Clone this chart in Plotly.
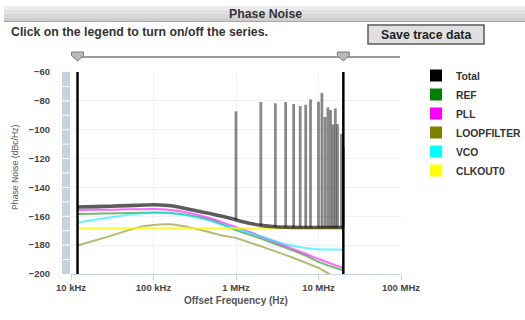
import numpy as np
import plotly.graph_objects as go

# ---------------- data ----------------
freq_hz = [12e3, 20e3, 30e3, 50e3, 70e3, 100e3, 150e3, 200e3, 300e3, 500e3,
           700e3, 1e6, 1.5e6, 2e6, 3e6, 5e6, 7e6, 10e6, 15e6, 20e6]

total_dbc = [-153.6, -153.3, -153.0, -152.6, -152.3, -152.0, -152.5, -153.5, -155.7, -158.3,
             -160.2, -162.5, -165.0, -166.3, -167.3, -167.7, -167.8, -167.8, -167.8, -167.8]
ref_dbc = [-158.4, -158.2, -158.0, -157.8, -157.6, -157.3, -157.6, -158.3, -159.8, -162.8,
           -166.0, -169.6, -173.0, -175.5, -179.2, -184.0, -187.3, -191.6, -195.2, -197.5]
pll_dbc = [-155.6, -155.5, -155.4, -155.2, -155.1, -155.0, -155.4, -156.3, -158.2, -161.5,
           -164.5, -167.5, -171.0, -174.0, -177.8, -182.8, -186.0, -189.6, -193.3, -195.8]
loopfilter_dbc = [-180.2, -176.6, -173.6, -169.6, -167.3, -166.0, -165.6, -166.2, -168.2, -171.4,
                  -173.5, -175.0, -178.4, -180.8, -184.3, -188.9, -192.2, -195.8, -201.5, -205.0]
vco_dbc = [-164.6, -162.3, -160.8, -159.0, -158.0, -157.5, -157.7, -158.4, -160.2, -163.3,
           -166.0, -168.5, -171.8, -174.0, -177.3, -180.6, -182.0, -182.8, -183.1, -183.2]
clkout0_dbc = [-168.3, -168.3, -168.3, -168.3, -168.3, -168.3, -168.3, -168.3, -168.3, -168.3,
               -168.3, -168.3, -168.3, -168.3, -168.3, -168.3, -168.3, -168.3, -168.3, -168.3]

spur_freq_hz = [1e6, 2e6, 3e6, 4e6, 5e6, 6e6, 7e6, 8e6, 10e6, 11e6,
                12e6, 13e6, 14e6, 15e6, 16e6, 17e6, 19e6, 20e6]
spur_dbc = [-87.3, -80.8, -81.7, -80.8, -82.2, -83.6, -82.7, -79.0, -80.6, -74.5,
            -91.2, -84.5, -86.4, -96.3, -85.3, -96.2, -102.9, -112.0]

integration_limits_hz = [12e3, 20e6]

series_names = ["Total", "REF", "PLL", "LOOPFILTER", "VCO", "CLKOUT0"]
legend_colors = ["#000000", "#008000", "#ff00ff", "#808000", "#00ffff", "#ffff00"]
line_colors = ["rgba(0,0,0,0.64)", "rgba(0,128,0,0.55)", "rgba(255,0,255,0.6)",
               "rgba(128,128,0,0.55)", "rgba(0,240,255,0.6)", "rgba(255,250,0,0.8)"]

x_tick_vals = [1e4, 1e5, 1e6, 1e7, 1e8]
x_tick_text = ["10 kHz", "100 kHz", "1 MHz", "10 MHz", "100 MHz"]
x_range_log = [4, 8]
y_range = [-200, -60]

# ---------------- geometry helpers (layout only) ----------------
L, R, T, B = 71, 124, 72, 46
W, H = 525, 320
PW, PH = W - L - R, H - T - B


def px(xp):
    return (xp - L) / PW


def py(yp):
    return (H - B - yp) / PH


def freq_to_paper(f):
    return (np.log10(f) - x_range_log[0]) / (x_range_log[1] - x_range_log[0])


FONT = "Liberation Sans, Arial, Helvetica, sans-serif"

fig = go.Figure()

series_vals = [total_dbc, ref_dbc, pll_dbc, loopfilter_dbc, vco_dbc, clkout0_dbc]

# colored component curves (drawn beneath total)
for name, vals, col in list(zip(series_names, series_vals, line_colors))[1:]:
    fig.add_trace(go.Scatter(x=freq_hz, y=vals, mode="lines",
                             line=dict(color=col, width=2, shape="spline", smoothing=0.6),
                             legendgroup=name, showlegend=False, hoverinfo="skip"))

# total spurs
logf = np.log10(freq_hz)
sx, sy = [], []
for f, lvl in zip(spur_freq_hz, spur_dbc):
    base = float(np.interp(np.log10(f), logf, total_dbc))
    sx += [f, f, None]
    sy += [base, lvl, None]
fig.add_trace(go.Scatter(x=sx, y=sy, mode="lines", line=dict(color="rgba(40,40,40,0.55)", width=2.8),
                         legendgroup="Total", showlegend=False, hoverinfo="skip"))
# total curve
fig.add_trace(go.Scatter(x=freq_hz, y=total_dbc, mode="lines",
                         line=dict(color=line_colors[0], width=3.6, shape="spline", smoothing=0.6),
                         legendgroup="Total", showlegend=False, hoverinfo="skip"))

# integration limit lines
for f in integration_limits_hz:
    fig.add_trace(go.Scatter(x=[f, f], y=y_range, mode="lines", line=dict(color="#000000", width=2.5),
                             showlegend=False, hoverinfo="skip"))

# legend entries (squares)
for i, (name, col) in enumerate(zip(series_names, legend_colors)):
    fig.add_trace(go.Scatter(x=[None], y=[None], mode="markers", name=name, legendgroup=name, legendrank=i + 1,
                             marker=dict(symbol="square", size=12, color=col, line=dict(width=0))))

shapes = []
# title bar
bar_cols = ["#ececec", "#e2e2e2", "#d8d8d8", "#cecece"]
for i, c in enumerate(bar_cols):
    shapes.append(dict(type="rect", xref="paper", yref="paper", x0=px(4), x1=px(525),
                       y0=py(6 + (i + 1) * 3.75), y1=py(6 + i * 3.75), fillcolor=c, line=dict(width=0),
                       layer="below"))
shapes.append(dict(type="line", xref="paper", yref="paper", x0=px(4), x1=px(525), y0=py(21.5), y1=py(21.5),
                   line=dict(color="#a8a8a8", width=1)))
# button
shapes.append(dict(type="rect", xref="paper", yref="paper", x0=px(368), x1=px(484), y0=py(44), y1=py(25),
                   fillcolor="#e0e0e0", line=dict(color="#5a5a5a", width=1.5)))
# slider track
shapes.append(dict(type="line", xref="paper", yref="paper", x0=px(73), x1=px(400), y0=py(57), y1=py(57),
                   line=dict(color="#9c9c9c", width=2)))
# slider handles at the integration limits
for f in integration_limits_hz:
    cx = freq_to_paper(f)
    hw = 6 / PW
    path = (f"M {cx - hw:.5f},{py(52):.5f} L {cx + hw:.5f},{py(52):.5f} "
            f"L {cx + hw:.5f},{py(55.5):.5f} L {cx:.5f},{py(61):.5f} L {cx - hw:.5f},{py(55.5):.5f} Z")
    shapes.append(dict(type="path", xref="paper", yref="paper", path=path,
                       fillcolor="#b9b9b9", line=dict(color="#7a7a7a", width=1)))
# left navigator bar
shapes.append(dict(type="rect", xref="paper", yref="paper", x0=px(62), x1=px(70), y0=0, y1=1,
                   fillcolor="#c4d2e1", line=dict(width=0), layer="below"))
for v in range(-190, -60, 10):
    shapes.append(dict(type="line", xref="paper", yref="y", x0=px(62), x1=px(70), y0=v, y1=v,
                       line=dict(color="#ffffff", width=1), layer="below"))

annotations = [
    dict(text="<b>Phase Noise</b>", xref="paper", yref="paper", x=px(265), y=py(14), showarrow=False,
         font=dict(family=FONT, size=12.3, color="#333333"), xanchor="center", yanchor="middle"),
    dict(text="<b>Click on the legend to turn on/off the series.</b>", xref="paper", yref="paper", x=px(9),
         y=py(32), showarrow=False, font=dict(family=FONT, size=12.3, color="#333333"),
         xanchor="left", yanchor="middle"),
    dict(text="<b>Save trace data</b>", xref="paper", yref="paper", x=px(426), y=py(34.5), showarrow=False,
         font=dict(family=FONT, size=12.3, color="#222222"), xanchor="center", yanchor="middle"),
    dict(text="Phase Noise (dBc/Hz)", xref="paper", yref="paper", x=px(15), y=py(167), showarrow=False,
         textangle=-90, font=dict(family=FONT, size=8.7, color="#555555"), xanchor="center", yanchor="middle"),
    dict(text="<b>Offset Frequency (Hz)</b>", xref="paper", yref="paper", x=px(236), y=py(300), showarrow=False,
         font=dict(family=FONT, size=10, color="#555555"), xanchor="center", yanchor="middle"),
]

fig.update_layout(
    width=W, height=H, margin=dict(l=L, r=R, t=T, b=B, autoexpand=False),
    paper_bgcolor="#ffffff", plot_bgcolor="#ffffff",
    font=dict(family=FONT, size=9.5, color="#444444"),
    shapes=shapes, annotations=annotations,
    showlegend=True,
    legend=dict(x=px(416), y=py(61), xanchor="left", yanchor="top", bgcolor="rgba(0,0,0,0)",
                font=dict(family=FONT, size=10.3, color="#333333", weight="bold"), itemsizing="trace",
                tracegroupgap=0),
    xaxis=dict(type="log", range=x_range_log, tickvals=x_tick_vals, ticktext=x_tick_text,
               showgrid=True, gridcolor="#eef2f6", gridwidth=1,
               showline=True, linecolor="#c6d3e2", linewidth=1, ticks="outside", ticklen=5, tickcolor="#c6d3e2",
               tickfont=dict(family=FONT, size=9.5, color="#444444", weight="bold"), zeroline=False),
    yaxis=dict(range=y_range, dtick=20, showgrid=True, gridcolor="#eef2f6", gridwidth=1,
               showline=False, zeroline=False, ticks="", ticklabelstandoff=20,
               tickfont=dict(family=FONT, size=9.5, color="#444444", weight="bold")),
)

fig.write_html("out.html")
